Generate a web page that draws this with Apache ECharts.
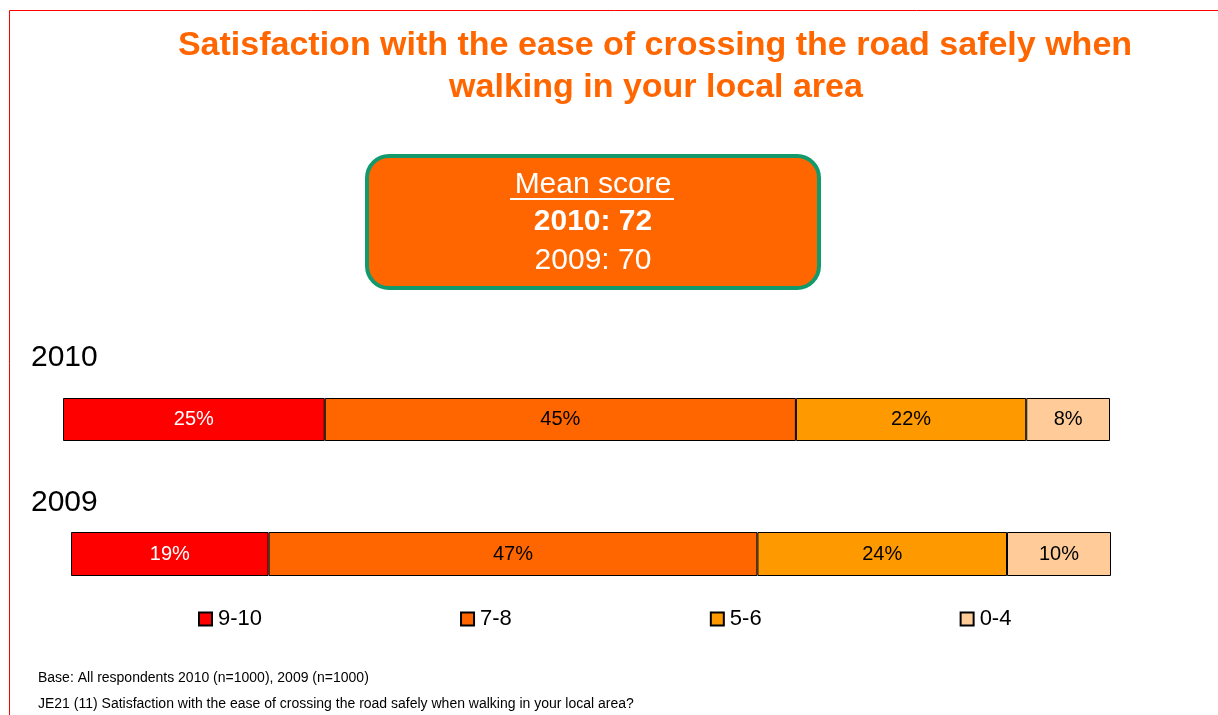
<!DOCTYPE html>
<html>
<head>
<meta charset="utf-8">
<script src="https://cdn.jsdelivr.net/npm/echarts@6/dist/echarts.min.js"></script>
<style>
html,body{margin:0;padding:0;background:#fff;}
#chart{width:1218px;height:715px;}
</style>
</head>
<body>
<div id="chart"></div>
<script>
const years = ['2010', '2009'];
const bands = ['9-10', '7-8', '5-6', '0-4'];
const values2010 = [25, 45, 22, 8];
const values2009 = [19, 47, 24, 10];
const meanScores = [72, 70];
const titleLines = ['Satisfaction with the ease of crossing the road safely when', 'walking in your local area'];
const footnotes = ['Base: All respondents 2010 (n=1000), 2009 (n=1000)', 'JE21 (11) Satisfaction with the ease of crossing the road safely when walking in your local area?'];

const bandColors = ['#FF0000', '#FF6600', '#FF9900', '#FFCC99'];
const labelColors = ['#FFFFFF', '#000000', '#000000', '#000000'];
const FONT = '"Liberation Sans", Arial, sans-serif';

const chart = echarts.init(document.getElementById('chart'));

const yearValues = [values2010, values2009];
const series = [];
yearValues.forEach((vals, gi) => {
  bands.forEach((b, i) => {
    series.push({
      name: b,
      type: 'bar',
      stack: 'y' + gi,
      xAxisIndex: gi,
      yAxisIndex: gi,
      barCategoryGap: '0%',
      data: [vals[i]],
      itemStyle: { color: bandColors[i], borderColor: '#000', borderWidth: 1 },
      label: {
        show: true,
        position: 'inside',
        formatter: '{c}%',
        color: labelColors[i],
        fontFamily: FONT,
        fontSize: 20
      },
      emphasis: { disabled: true },
      animation: false
    });
  });
});

const option = {
  animation: false,
  grid: [
    { left: 63, top: 398, width: 1047, height: 43 },
    { left: 71, top: 532, width: 1040, height: 44 }
  ],
  xAxis: [0, 1].map(i => ({ gridIndex: i, type: 'value', min: 0, max: 100, show: false })),
  yAxis: [0, 1].map(i => ({ gridIndex: i, type: 'category', data: [years[i]], show: false })),
  legend: {
    data: bands,
    left: 198,
    top: 608,
    padding: 0,
    itemWidth: 13,
    itemHeight: 13,
    itemGap: 198,
    icon: 'rect',
    textStyle: { fontFamily: FONT, fontSize: 22, color: '#000', padding: [0, 0, 0, 1] }
  },
  graphic: [
    { type: 'rect', shape: { x: 9.5, y: 10.5, width: 1400, height: 900 }, style: { fill: 'none', stroke: '#FF0000', lineWidth: 1 }, silent: true },
    { type: 'text', x: 655, y: 46, style: { text: titleLines[0], font: 'bold 34px ' + FONT, fill: '#FF6600', align: 'center', verticalAlign: 'middle' } },
    { type: 'text', x: 656, y: 88, style: { text: titleLines[1], font: 'bold 34px ' + FONT, fill: '#FF6600', align: 'center', verticalAlign: 'middle' } },
    { type: 'rect', shape: { x: 367, y: 156, width: 452, height: 132, r: 22 }, style: { fill: '#FF6600', stroke: '#129A6C', lineWidth: 4 } },
    { type: 'text', x: 593, y: 185, style: { text: 'Mean score', font: '30px ' + FONT, fill: '#fff', align: 'center', verticalAlign: 'middle' } },
    { type: 'line', shape: { x1: 510, y1: 199, x2: 674, y2: 199 }, style: { stroke: '#fff', lineWidth: 2 } },
    { type: 'text', x: 593, y: 222, style: { text: years[0] + ': ' + meanScores[0], font: 'bold 30px ' + FONT, fill: '#fff', align: 'center', verticalAlign: 'middle' } },
    { type: 'text', x: 593, y: 261, style: { text: years[1] + ': ' + meanScores[1], font: '30px ' + FONT, fill: '#fff', align: 'center', verticalAlign: 'middle' } },
    { type: 'text', x: 31, y: 358, style: { text: years[0], font: '30px ' + FONT, fill: '#000', align: 'left', verticalAlign: 'middle' } },
    { type: 'text', x: 31, y: 503, style: { text: years[1], font: '30px ' + FONT, fill: '#000', align: 'left', verticalAlign: 'middle' } },
    { type: 'text', x: 38, y: 678, style: { text: footnotes[0], font: '14px ' + FONT, fill: '#000', align: 'left', verticalAlign: 'middle' } },
    { type: 'text', x: 38, y: 704, style: { text: footnotes[1], font: '14px ' + FONT, fill: '#000', align: 'left', verticalAlign: 'middle' } }
  ],
  series: series
};
chart.setOption(option);
</script>
</body>
</html>
